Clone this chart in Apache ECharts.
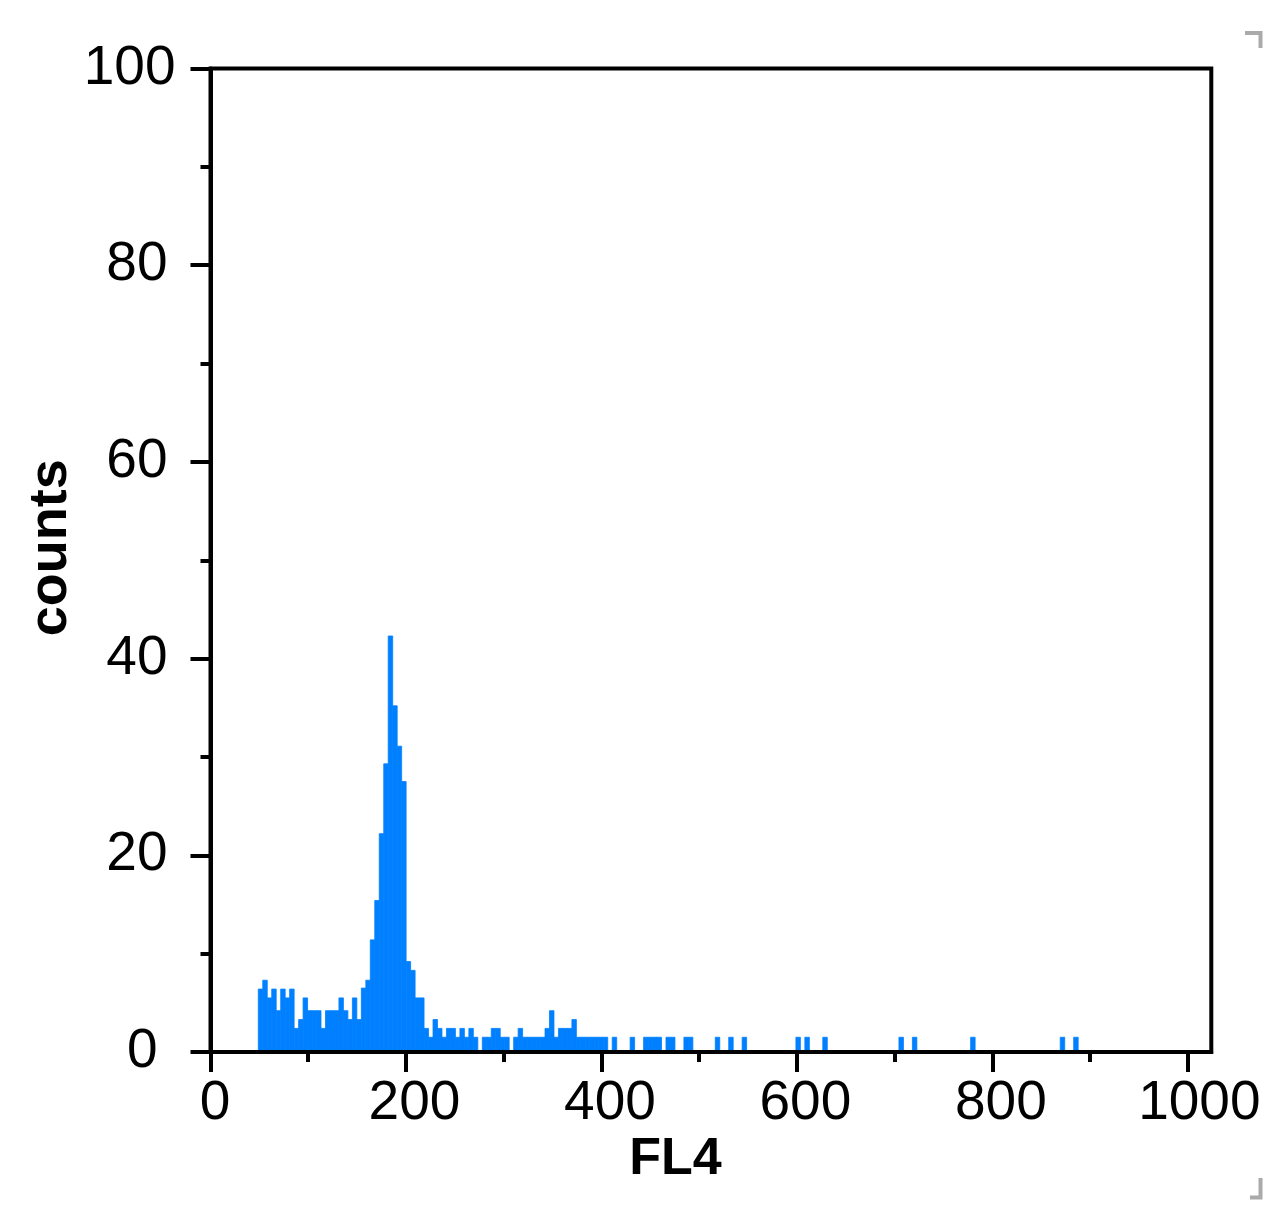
<!DOCTYPE html>
<html>
<head>
<meta charset="utf-8">
<script src="https://cdn.jsdelivr.net/npm/echarts@6/dist/echarts.min.js"></script>
<style>
html,body{margin:0;padding:0;background:#fff;}
#chart{width:1284px;height:1226px;}
</style>
</head>
<body>
<div id="chart"></div>
<script>
// ---- data ----
const xName = 'FL4';
const yName = 'counts';
const xTickLabels = [0, 200, 400, 600, 800, 1000];
const xMinorTicks = [100, 300, 500, 700, 900];
const yTickLabels = [0, 20, 40, 60, 80, 100];
const binStart = 48.9;     // FL4 channel of first bin's left edge
const binWidth = 4.584;    // channels per histogram bin
const counts = [
  6.4, 7.3, 5.5, 6.4, 4.2, 6.4, 5.5, 6.4, 2.4, 3.3,
  5.5, 4.2, 4.2, 4.2, 2.4, 4.2, 4.2, 4.2, 5.5, 4.2,
  3.3, 5.5, 3.3, 6.5, 7.3, 11.4, 15.4, 22.2, 29.3, 42.3,
  35.2, 31.1, 27.5, 9.2, 8.3, 5.5, 5.5, 2.4, 1.5, 3.3,
  2.4, 1.5, 2.4, 2.4, 1.5, 2.4, 1.5, 2.4, 1.5, 0,
  1.5, 1.5, 2.4, 2.4, 1.5, 1.5, 0, 1.5, 2.4, 1.5,
  1.5, 1.5, 1.5, 1.5, 2.4, 4.2, 1.5, 2.4, 2.4, 2.4,
  3.3, 1.5, 1.5, 1.5, 1.5, 1.5, 1.5, 1.5, 0, 1.5,
  0, 0, 0, 1.5, 0, 0, 1.5, 1.5, 1.5, 1.5,
  0, 1.5, 1.5, 0, 0, 1.5, 1.5, 0, 0, 0,
  0, 0, 1.5, 0, 0, 1.5, 0, 0, 1.5, 0,
  0, 0, 0, 0, 0, 0, 0, 0, 0, 0,
  1.5, 0, 1.5, 0, 0, 0, 1.5, 0, 0, 0,
  0, 0, 0, 0, 0, 0, 0, 0, 0, 0,
  0, 0, 0, 1.5, 0, 0, 1.5, 0, 0, 0,
  0, 0, 0, 0, 0, 0, 0, 0, 0, 1.5,
  0, 0, 0, 0, 0, 0, 0, 0, 0, 0,
  0, 0, 0, 0, 0, 0, 0, 0, 0, 1.5,
  0, 0, 1.5
];

// ---- build ----
const FONT = "'Liberation Sans', Arial, sans-serif";
const barData = [];
counts.forEach((c, k) => {
  if (c > 0) barData.push([binStart + k * binWidth, binStart + (k + 1) * binWidth, c]);
});

const black = { color: '#000', width: 4 };
const lbl = { fontFamily: FONT, fontSize: 55, color: '#000' };

const chart = echarts.init(document.getElementById('chart'), null, { renderer: 'canvas' });
chart.setOption({
  animation: false,
  backgroundColor: '#ffffff',
  grid: {
    left: 210.5, top: 68.5, right: 72.7, bottom: 174,
    show: true, borderColor: '#000', borderWidth: 4, backgroundColor: 'transparent'
  },
  xAxis: [{
    type: 'value', min: 0, max: 1024, position: 'bottom', z: 10,
    axisLine: { show: true, onZero: false, lineStyle: black },
    axisTick: { show: true, length: 20, customValues: xTickLabels, lineStyle: black },
    axisLabel: {
      show: true, customValues: xTickLabels, margin: 24,
      formatter: v => '{n' + String(v).length + '|' + v + '}',
      rich: {
        n1: Object.assign({ padding: [0, 0, 0, 9] }, lbl),
        n3: Object.assign({ padding: [0, 0, 0, 17] }, lbl),
        n4: Object.assign({ padding: [0, 0, 0, 23] }, lbl)
      }
    },
    splitLine: { show: false },
    name: xName, nameLocation: 'middle', nameGap: 82, nameMoveOverlap: false,
    nameTextStyle: { fontFamily: FONT, fontSize: 52, fontWeight: 'bold', color: '#000', padding: [0, 71, 0, 0] }
  }, {
    type: 'value', min: 0, max: 1024, position: 'bottom', z: 10,
    axisLine: { show: false },
    axisTick: { show: true, length: 10, customValues: xMinorTicks, lineStyle: black },
    axisLabel: { show: false },
    splitLine: { show: false }
  }],
  yAxis: {
    type: 'value', min: 0, max: 100, interval: 20, z: 10,
    axisLine: { show: true, onZero: false, lineStyle: black },
    axisTick: { show: true, length: 20, lineStyle: black },
    minorTick: { show: true, splitNumber: 2, length: 10, lineStyle: black },
    axisLabel: {
      show: true, margin: 35,
      customValues: yTickLabels,
      formatter: v => '{n' + String(v).length + '|' + v + '}',
      rich: {
        n1: Object.assign({ padding: [0, 18, 0, 0] }, lbl),
        n2: Object.assign({ padding: [0, 8, 0, 0] }, lbl),
        n3: Object.assign({}, lbl)
      }
    },
    splitLine: { show: false },
    minorSplitLine: { show: false },
    name: yName, nameLocation: 'middle', nameRotate: 90, nameGap: 132, nameMoveOverlap: false,
    nameTextStyle: { fontFamily: FONT, fontSize: 54, fontWeight: 'bold', color: '#000', padding: [0, 0, 0, 25] }
  },
  series: [{
    type: 'custom',
    xAxisIndex: 0, yAxisIndex: 0, z: 2,
    data: barData,
    renderItem: function (params, api) {
      const p0 = api.coord([api.value(0), api.value(2)]);
      const p1 = api.coord([api.value(1), 0]);
      return {
        type: 'rect',
        shape: { x: p0[0], y: p0[1], width: p1[0] - p0[0], height: p1[1] - p0[1] },
        style: { fill: '#0080ff', stroke: '#0080ff', lineWidth: 0.8 }
      };
    }
  }],
  graphic: [
    { type: 'polyline', shape: { points: [[1245, 33], [1260.5, 33], [1260.5, 48]] },
      style: { stroke: '#aaaaaa', lineWidth: 4, fill: null } },
    { type: 'polyline', shape: { points: [[1260.5, 1178], [1260.5, 1197.5], [1250, 1197.5]] },
      style: { stroke: '#aaaaaa', lineWidth: 4, fill: null } }
  ]
});
</script>
</body>
</html>
